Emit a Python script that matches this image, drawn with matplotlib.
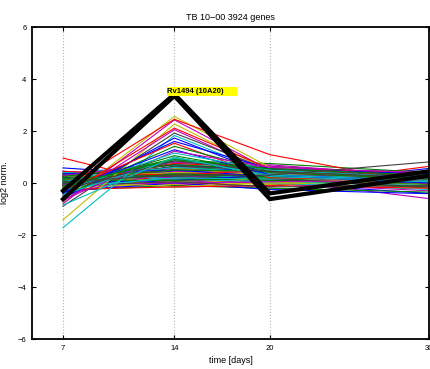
import matplotlib
matplotlib.use("Agg")
import matplotlib.pyplot as plt

days = [7, 14, 20, 30]

# background profiles (log2 norm. at day 7, 14, 20, 30)
band_profiles = [
    [0.58, 0.30, 0.35, 0.25], [0.45, 0.20, 0.15, 0.05], [0.96, -0.10, 0.10, 0.00],
    [0.35, 0.55, 0.50, 0.30], [0.30, 0.40, 0.25, 0.10], [0.25, 0.70, 0.45, 0.20],
    [0.20, 0.10, 0.30, 0.45], [0.15, 0.35, 0.20, -0.05], [0.28, 0.60, 0.40, 0.15],
    [0.10, 0.05, 0.00, -0.40], [0.05, 0.45, 0.25, 0.00], [0.00, 0.25, 0.10, 0.10],
    [-0.05, 0.50, 0.35, 0.05], [-0.10, -0.05, 0.15, -0.60], [0.12, 0.15, 0.05, -0.10],
    [0.02, 0.30, 0.15, 0.20], [-0.15, 0.00, 0.20, 0.30], [-0.20, 0.65, 0.40, 0.25],
    [0.18, 0.15, -0.05, -0.15], [-0.25, 0.40, 0.30, 0.10], [0.08, 0.35, 0.55, 0.39],
    [-0.30, 0.20, 0.10, 0.00], [0.22, 0.75, 0.65, 0.30], [-0.05, -0.15, -0.10, 0.56],
    [0.40, 0.30, 0.20, -0.20], [-0.12, 0.05, -0.15, 0.64], [0.32, 0.80, 0.55, 0.15],
    [-0.35, 0.10, 0.00, -0.30], [0.05, 0.55, 0.30, 0.05], [-0.18, 0.40, 0.25, 0.35],
    [0.15, 0.45, 0.60, 0.20], [-0.08, 0.20, 0.05, -0.05], [0.25, 0.10, 0.30, 0.40],
    [0.10, 0.25, 0.00, -0.25], [-0.22, 0.60, 0.70, 0.25], [0.30, 0.05, -0.05, 0.10],
    [-0.02, 0.15, 0.10, 0.00], [0.20, 0.70, 0.50, 0.10], [-0.28, -0.10, -0.20, -0.35],
    [0.12, 0.50, 0.45, 0.25], [-0.40, 0.30, 0.20, 0.05], [0.35, 0.20, 0.40, 0.15],
    [-0.15, -0.05, 0.20, 0.30], [0.05, 0.65, 0.50, 0.45], [-0.32, 0.00, -0.25, -0.41],
    [0.18, 0.35, 0.10, 0.05], [-0.05, 0.75, 0.60, 0.35], [0.42, 0.15, 0.05, -0.10],
    [-0.45, 0.45, 0.35, 0.00], [0.08, -0.15, 0.00, 0.20], [0.30, 0.25, 0.15, -0.15],
    [0.00, 0.10, 0.30, 0.00], [0.22, 0.85, 0.75, 0.40], [-0.25, -0.15, -0.10, -0.20],
    [0.14, 0.60, 0.40, 0.20], [-0.05, 0.00, 0.05, 0.10], [0.26, 0.40, 0.35, 0.30],
    [-0.10, 0.05, -0.15, -0.10], [0.35, 0.50, 0.25, 0.15], [0.10, 0.10, 0.20, 0.25],
    [0.45, 0.30, 0.50, 0.20], [-0.18, 0.20, 0.15, 0.35], [0.28, 0.80, 0.65, 0.10],
    [0.00, 0.35, 0.25, 0.10], [0.15, 0.50, 0.45, 0.15], [0.25, 0.70, 0.55, 0.05],
    [0.05, 0.90, 0.60, 0.20], [-0.12, 0.95, 0.50, 0.25],
]
band_colors = list("bbrgrcmykbgrcmykbgrcmykbgrcmykbgrcmykbgrcmykbgrcmykbgrcmykbgrcmgggcg")

# strongly induced profiles at day 14
strong_profiles = [
    [-0.75, 2.56, 0.60, 0.20], [-0.80, 2.43, 0.50, 0.30], [-0.20, 2.45, 1.09, -0.05],
    [-1.42, 2.27, 0.45, 0.10], [-0.50, 2.11, 0.55, 0.20], [-0.70, 2.05, 0.40, 0.15],
    [-0.89, 1.92, 0.50, 0.25], [-1.72, 1.83, 0.35, 0.00], [-0.60, 1.73, 0.30, 0.10],
    [-0.40, 1.60, 0.55, 0.35], [-0.30, 1.53, 0.20, 0.10], [-0.50, 1.41, 0.45, 0.20],
    [-0.35, 1.28, 0.30, 0.00], [-0.65, 1.22, 0.60, 0.40], [-0.30, 1.15, 0.50, 0.20],
    [-0.20, 1.05, 0.40, 0.15], [-0.45, 0.95, 0.30, 0.10], [-0.10, 0.90, 0.55, 0.30],
    [-0.25, 0.85, 0.45, 0.20], [-0.85, 1.00, 0.25, 0.05], [0.05, 0.30, 0.30, 0.81],
]
strong_colors = list("ymryrmkcbbrgbmcgcgkck")

# highlighted gene Rv1494 (10A20), two spots
gene_a = [-0.30, 3.42, -0.40, 0.45]
gene_b = [-0.62, 3.35, -0.62, 0.28]
gene_label = "Rv1494 (10A20)"

palette = {
    "b": (0.0, 0.0, 1.0), "g": (0.0, 0.5, 0.0), "r": (1.0, 0.0, 0.0),
    "c": (0.0, 0.75, 0.75), "m": (0.75, 0.0, 0.75), "y": (0.75, 0.75, 0.0),
    "k": (0.25, 0.25, 0.25),
}

plt.rcParams["font.family"] = ["Liberation Sans", "DejaVu Sans"]

fig = plt.figure(figsize=(4.31, 3.69), dpi=100)
ax = fig.add_axes([0.0742, 0.0813, 0.9211, 0.8455])

for d in days:
    ax.axvline(d, color=(0.7, 0.7, 0.7), linestyle=":", linewidth=0.8, zorder=0)

for prof, c in zip(band_profiles, band_colors):
    ax.plot(days, prof, color=palette[c], linewidth=0.8)
for prof, c in zip(strong_profiles, strong_colors):
    ax.plot(days, prof, color=palette[c], linewidth=0.8)

ax.plot(days, gene_a, color="black", linewidth=3.0, solid_joinstyle="miter")
ax.plot(days, gene_b, color="black", linewidth=3.0, solid_joinstyle="miter")

ax.text(13.56, 3.52, gene_label + "      ", fontsize=5.5, fontweight="bold",
        va="center", ha="left",
        bbox=dict(facecolor=(1, 1, 0), edgecolor="none", pad=0.5))

ax.set_xlim(5.05, 30)
ax.set_ylim(-6, 6)
ax.set_xticks(days)
ax.set_yticks([-6, -4, -2, 0, 2, 4, 6])
ax.tick_params(direction="in", length=3, width=0.8, labelsize=5.5,
               top=True, right=True, pad=4)
for s in ax.spines.values():
    s.set_linewidth(1.3)

ax.set_title("TB 10\u221200 3924 genes", fontsize=6.5, pad=5)
ax.set_xlabel("time [days]", fontsize=6.5, labelpad=3)
ax.set_ylabel("log2 norm.", fontsize=6.5, labelpad=6)

fig.savefig("out.png", dpi=100)
plt.close(fig)
